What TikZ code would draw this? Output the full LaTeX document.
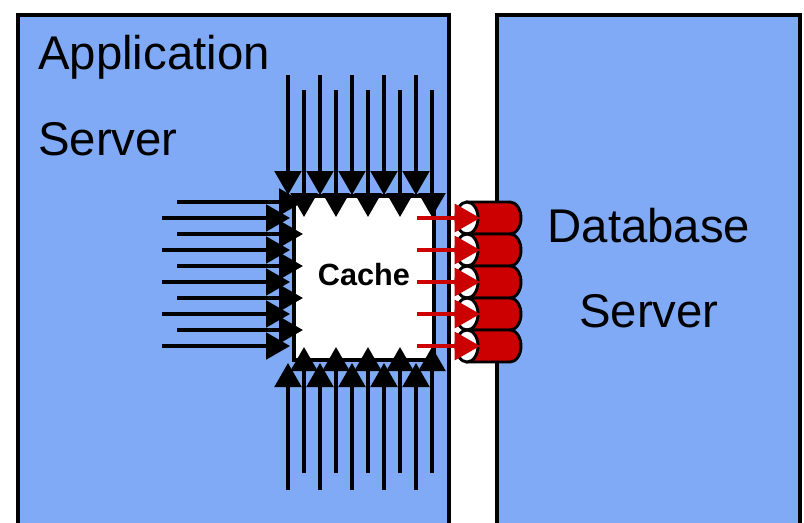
\documentclass[tikz,border=0pt]{standalone}
\usepackage{fontspec}
\setmainfont{Liberation Sans}
\usetikzlibrary{arrows.meta}
\definecolor{serverblue}{RGB}{128,170,245}
\definecolor{diskred}{RGB}{204,0,0}

\begin{document}
\begin{tikzpicture}[x=0.75pt,y=-0.75pt,
  server/.style={fill=serverblue,draw=black,line width=3pt},
  bigtext/.style={font=\fontsize{35.5}{42}\selectfont,inner sep=0pt},
  feed/.style={line width=2.5pt,-{Triangle[length=18pt,width=20pt]}},
  fetch/.style={diskred,line width=2.4pt,-{Triangle[length=19pt,width=21pt]}},
  disk/.pic={
    \filldraw[fill=diskred,line width=2.2pt] (0,-16) -- (43,-16)
      arc[start angle=-90,end angle=90,x radius=11,y radius=16] -- (0,16) -- cycle;
    \filldraw[fill=white,line width=2.2pt] (0,0) ellipse[x radius=11,y radius=16];
  }]

\useasboundingbox (0,0) rectangle (804,522);
\clip (0,0) rectangle (804,522);

\draw[server] (18,15) rectangle (449,540);
\draw[server] (497,15) rectangle (800,540);

\node[bigtext,anchor=base west] (appname) at (38,69) {Application};
\node[bigtext,anchor=base west] (appserver) at (38,155) {Server};
\node[bigtext,anchor=base] (dbname) at (649,242) {Database};
\node[bigtext,anchor=base] (dbserver) at (649,327) {Server};

\node[draw=black,fill=white,line width=2.5pt,minimum width=105pt,minimum height=123pt] (cache) at (364,278) {};
\node[font=\bfseries\fontsize{23}{28}\selectfont,anchor=base,inner sep=0pt] (cachename) at (364,285) {Cache};

\pic at (467,218) {disk};
\pic at (467,250) {disk};
\pic at (467,282) {disk};
\pic at (467,314) {disk};
\pic at (467,346) {disk};

% from above
\draw[feed] (288,75) -- (288,195);
\draw[feed] (320,75) -- (320,195);
\draw[feed] (352,75) -- (352,195);
\draw[feed] (384,75) -- (384,195);
\draw[feed] (416,75) -- (416,195);

\draw[feed] (304,90) -- (304,217);
\draw[feed] (336,90) -- (336,217);
\draw[feed] (368,90) -- (368,217);
\draw[feed] (400,90) -- (400,217);
\draw[feed] (432,90) -- (432,217);

% from below
\draw[feed] (288,490) -- (288,363);
\draw[feed] (320,490) -- (320,363);
\draw[feed] (352,490) -- (352,363);
\draw[feed] (384,490) -- (384,363);
\draw[feed] (416,490) -- (416,363);

\draw[feed] (304,473) -- (304,347);
\draw[feed] (336,473) -- (336,347);
\draw[feed] (368,473) -- (368,347);
\draw[feed] (400,473) -- (400,347);
\draw[feed] (432,473) -- (432,347);

% from the left
\draw[feed] (177,202) -- (303,202);
\draw[feed] (177,234) -- (303,234);
\draw[feed] (177,266) -- (303,266);
\draw[feed] (177,298) -- (303,298);
\draw[feed] (177,330) -- (303,330);

\draw[feed] (162,218) -- (290,218);
\draw[feed] (162,250) -- (290,250);
\draw[feed] (162,282) -- (290,282);
\draw[feed] (162,314) -- (290,314);
\draw[feed] (162,346) -- (290,346);

% to the database
\draw[fetch] (417,218) -- (480,218);
\draw[fetch] (417,250) -- (480,250);
\draw[fetch] (417,282) -- (480,282);
\draw[fetch] (417,314) -- (480,314);
\draw[fetch] (417,346) -- (480,346);

\end{tikzpicture}
\end{document}
